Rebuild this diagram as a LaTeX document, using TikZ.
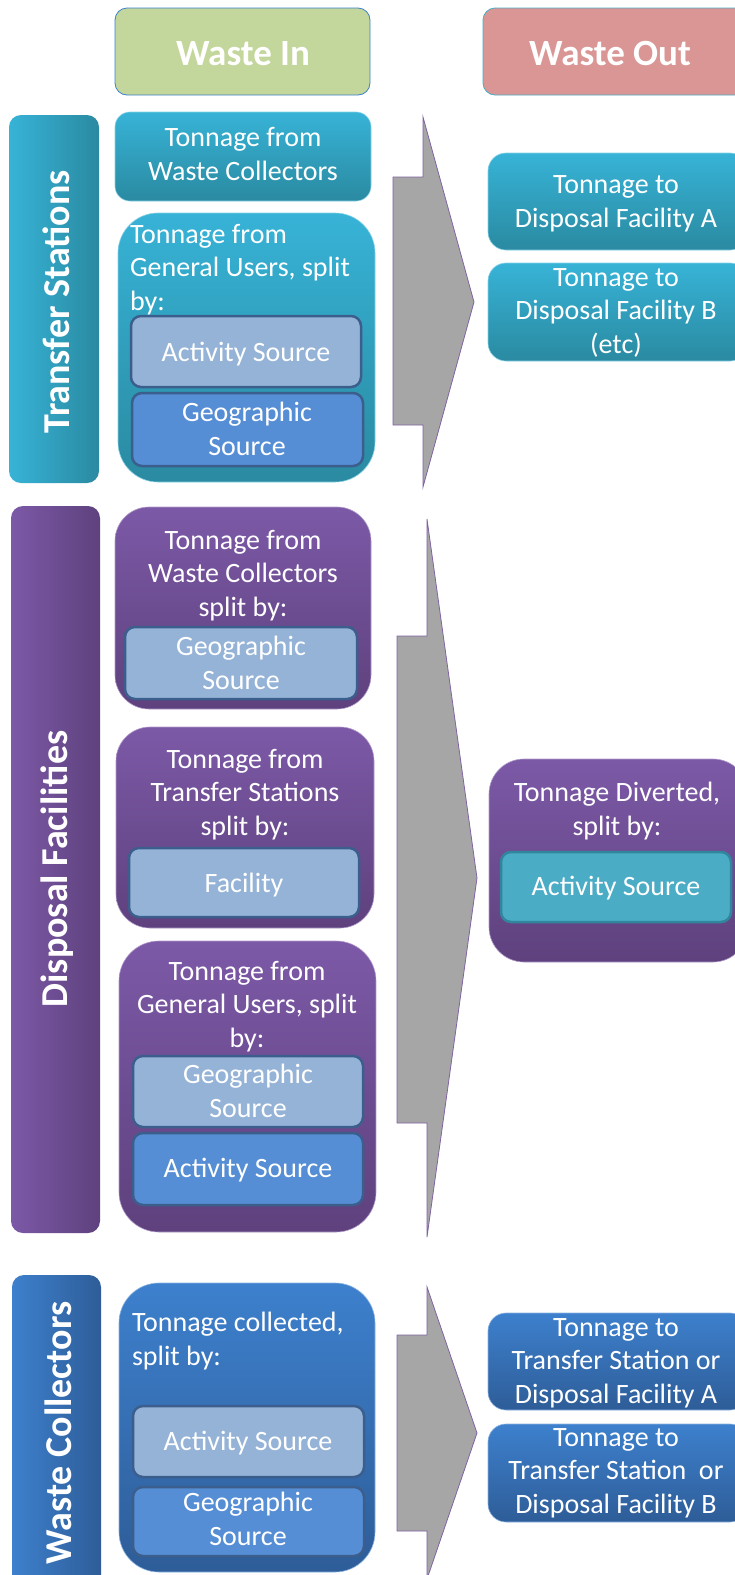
\documentclass[tikz,border=0pt]{standalone}
\usepackage{fontspec}
\setmainfont{Carlito}
\usetikzlibrary{fit}
\definecolor{tealT}{HTML}{37B3D7}
\definecolor{tealB}{HTML}{2A8AA1}
\definecolor{purT}{HTML}{7C59A7}
\definecolor{purB}{HTML}{5E417D}
\definecolor{bluT}{HTML}{3D80CD}
\definecolor{bluB}{HTML}{2E5D98}
\definecolor{lightin}{HTML}{95B3D7}
\definecolor{midin}{HTML}{558ED5}
\definecolor{inedge}{HTML}{3B5E8C}
\definecolor{tealin}{HTML}{4BACC6}
\definecolor{tealedge}{HTML}{31859C}
\definecolor{hdin}{HTML}{C3D69B}
\definecolor{hdout}{HTML}{D99694}
\definecolor{arrowfill}{HTML}{A6A6A6}
\definecolor{arrowedge}{HTML}{8064A2}
\begin{document}
\begin{tikzpicture}[x=1pt,y=-1pt,
  base/.style={inner sep=0pt, outer sep=0pt},
  tealbox/.style={base, top color=tealT, bottom color=tealB, draw=tealT!60!white, line width=0.6pt},
  purbox/.style={base, top color=purT, bottom color=purB, draw=purT!60!white, line width=0.6pt},
  blubox/.style={base, top color=bluT, bottom color=bluB, draw=bluT!60!white, line width=0.6pt},
  tealside/.style={base, left color=tealT, right color=tealB, rounded corners=12pt},
  purside/.style={base, left color=purT, right color=purB, rounded corners=12pt},
  bluside/.style={base, left color=bluT, right color=bluB, rounded corners=12pt},
  lightsub/.style={base, fill=lightin, draw=inedge, line width=2.5pt, rounded corners=10pt},
  midsub/.style={base, fill=midin, draw=inedge, line width=2.5pt, rounded corners=10pt},
  tealsub/.style={base, fill=tealin, draw=tealedge, line width=2.5pt, rounded corners=10pt},
  hdbox/.style={base, draw=#1, line width=0.8pt, rounded corners=12pt},
  txt/.style={base, text=white, font=\fontsize{28}{33.5}\selectfont, align=center},
  txtl/.style={base, text=white, font=\fontsize{28}{33.5}\selectfont, align=left},
  sidetxt/.style={base, text=white, font=\fontsize{38}{44}\selectfont\bfseries, rotate=90},
  hdtxt/.style={base, text=white, font=\fontsize{37}{44}\selectfont\bfseries},
  bigarrow/.style={fill=arrowfill, draw=arrowedge, line width=0.8pt, line join=miter}
]
\useasboundingbox (0,0) rectangle (735,1575);

% headers
\node[hdbox=bluT, fill=hdin, fit={(115,8) (370,95)}] (hin) {};
\node[hdtxt, anchor=base] (hint) at (243,65) {Waste In};
\node[hdbox=tealin, fill=hdout, fit={(483,8) (748,95)}] (hout) {};
\node[hdtxt, anchor=base] (houtt) at (610,65) {Waste Out};

% ===== Transfer Stations =====
\node[tealside, fit={(9,115) (99,483)}] (ts) {};
\node[sidetxt] (tst) at (56,302) {Transfer Stations};

\node[tealbox, rounded corners=15pt, fit={(115,112) (371,201)}] (tswc) {};
\node[txt, anchor=base] (tswct) at (243,180) {Tonnage from\\Waste Collectors};

\node[tealbox, rounded corners=40pt, fit={(118,213) (375,482)}] (tsgu) {};
\node[txtl, anchor=base west] (tsgut) at (130,310) {Tonnage from\\General Users, split\\by:};
\node[lightsub, fit={(131,316) (361,387)}] (tsact) {};
\node[txt, anchor=base] (tsactt) at (246,361) {Activity Source};
\node[midsub, fit={(132,393) (363,466)}] (tsgeo) {};
\node[txt, anchor=base] (tsgeot) at (247,455) {Geographic\\Source};

\draw[bigarrow] (393,177) -- (423,177) -- (423,117) -- (474,302) -- (423,487) -- (423,425) -- (393,425) -- cycle;

\node[tealbox, rounded corners=18pt, fit={(488,153) (748,250)}] (tsa) {};
\node[txt, anchor=base] (tsat) at (616,227) {Tonnage to\\Disposal Facility A};
\node[tealbox, rounded corners=18pt, fit={(488,263) (748,361)}] (tsb) {};
\node[txt, anchor=base] (tsbt) at (616,353) {Tonnage to\\Disposal Facility B\\(etc)};

% ===== Disposal Facilities =====
\node[purside, fit={(11,506) (100,1233)}] (df) {};
\node[sidetxt] (dft) at (57,869) {Disposal Facilities};

\node[purbox, rounded corners=34pt, fit={(115,507) (371,709)}] (dfwc) {};
\node[txt, anchor=base] (dfwct) at (243,616) {Tonnage from\\Waste Collectors\\split by:};
\node[lightsub, fit={(125,627) (357,699)}] (dfwcg) {};
\node[txt, anchor=base] (dfwcgt) at (241,689) {Geographic\\Source};

\node[purbox, rounded corners=34pt, fit={(116,727) (374,928)}] (dfts) {};
\node[txt, anchor=base] (dftst) at (245,835) {Tonnage from\\Transfer Stations\\split by:};
\node[lightsub, fit={(129,848) (359,917)}] (dftsf) {};
\node[txt, anchor=base] (dftsft) at (244,892) {Facility};

\node[purbox, rounded corners=40pt, fit={(119,941) (376,1232)}] (dfgu) {};
\node[txt, anchor=base] (dfgut) at (247,1047) {Tonnage from\\General Users, split\\by:};
\node[lightsub, fit={(133,1056) (363,1127)}] (dfgug) {};
\node[txt, anchor=base] (dfgugt) at (248,1117) {Geographic\\Source};
\node[midsub, fit={(133,1133) (363,1205)}] (dfgua) {};
\node[txt, anchor=base] (dfguat) at (248,1177) {Activity Source};

\draw[bigarrow] (397,636) -- (427,636) -- (427,519) -- (477,878) -- (427,1237) -- (427,1123) -- (397,1123) -- cycle;

\node[purbox, rounded corners=35pt, fit={(489,759) (748,962)}] (dfd) {};
\node[txt, anchor=base] (dfdt) at (617,835) {Tonnage Diverted,\\split by:};
\node[tealsub, fit={(501,852) (731,922)}] (dfda) {};
\node[txt, anchor=base] (dfdat) at (616,895) {Activity Source};

% ===== Waste Collectors =====
\node[bluside, fit={(12,1275) (101,1600)}] (wc) {};
\node[sidetxt] (wct) at (58,1433) {Waste Collectors};

\node[blubox, rounded corners=40pt, fit={(119,1283) (375,1572)}] (wcm) {};
\node[txtl, anchor=base west] (wcmt) at (132,1365) {Tonnage collected,\\split by:};
\node[lightsub, fit={(133,1406) (364,1477)}] (wca) {};
\node[txt, anchor=base] (wcat) at (248,1450) {Activity Source};
\node[midsub, fit={(133,1487) (364,1556)}] (wcg) {};
\node[txt, anchor=base] (wcgt) at (248,1545) {Geographic\\Source};

\draw[bigarrow] (397,1335) -- (427,1335) -- (427,1287) -- (477,1433) -- (427,1579) -- (427,1531) -- (397,1531) -- cycle;

\node[blubox, rounded corners=18pt, fit={(488,1313) (748,1410)}] (wco) {};
\node[txt, anchor=base] (wcot) at (616,1403) {Tonnage to\\Transfer Station or\\Disposal Facility A};
\node[blubox, rounded corners=18pt, fit={(488,1424) (748,1522)}] (wcp) {};
\node[txt, anchor=base] (wcpt) at (616,1513) {Tonnage to\\Transfer Station~ or\\Disposal Facility B};
\end{tikzpicture}
\end{document}
